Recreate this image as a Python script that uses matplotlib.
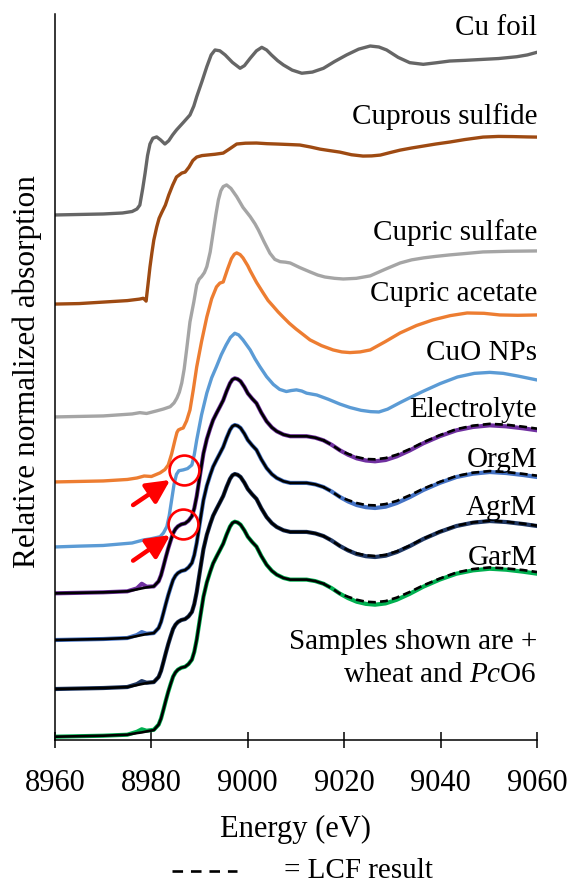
import matplotlib
matplotlib.use("Agg")
import matplotlib.pyplot as plt
from matplotlib.lines import Line2D

plt.rcParams['font.family'] = ['Liberation Serif', 'DejaVu Serif']
plt.rcParams['mathtext.fontset'] = 'custom'
plt.rcParams['mathtext.rm'] = 'Liberation Serif'
plt.rcParams['mathtext.it'] = 'Liberation Serif:italic'

# ---------------- data (normalized absorption, edge step = 1) ----------------
cu_foil_E = [8960, 8965, 8970, 8974, 8976, 8977, 8977.6, 8978.2, 8978.7, 8979.2, 8979.7, 8980.3,
             8981.1, 8981.9, 8982.8, 8983.6, 8984.4, 8985.2, 8986.6, 8988, 8988.8, 8989.4, 8990.5,
             8991.5, 8992.4, 8993.2, 8994.2, 8995.3, 8996.8, 8998.4, 8999.3, 9000.5, 9001.8,
             9002.9, 9003.9, 9004.9, 9006.2, 9007.4, 9009.2, 9011.2, 9013.4, 9015.7, 9018,
             9020.5, 9023, 9025.4, 9027.2, 9028.8, 9031.2, 9033.6, 9036.4, 9039, 9041.9, 9045,
             9048.8, 9052, 9055.8, 9058, 9060]
cu_foil_mu = [0, 0.003, 0.006, 0.012, 0.021, 0.036, 0.060, 0.160, 0.255, 0.360, 0.430, 0.465,
              0.473, 0.455, 0.430, 0.450, 0.485, 0.515, 0.560, 0.606, 0.660, 0.717, 0.810,
              0.899, 0.970, 1.000, 0.995, 0.970, 0.925, 0.889, 0.905, 0.950, 0.995,
              1.016, 1.000, 0.970, 0.935, 0.909, 0.878, 0.859, 0.866, 0.889, 0.930,
              0.970, 1.005, 1.024, 1.018, 1.000, 0.955, 0.923, 0.913, 0.922, 0.933, 0.937,
              0.943, 0.948, 0.959, 0.970, 0.986]

cu2s_E = [8960, 8965, 8970, 8975, 8977.5, 8978.3, 8978.7, 8978.9, 8979.3, 8979.7, 8980.1, 8980.5,
          8981.1, 8981.6, 8982.1, 8982.9, 8983.6, 8984.4, 8985.2, 8986.3, 8987, 8987.8, 8988.6,
          8989.4, 8990.5, 8991.5, 8993.2, 8994.9, 8996.3, 8997.7, 8999.5, 9001.8, 9004, 9006,
          9008.5, 9010.8, 9013, 9015, 9017, 9019.1, 9021.5, 9023.9, 9025.7, 9027.5, 9029.5,
          9031.6, 9034, 9036.5, 9039, 9041.9, 9045, 9048.8, 9052, 9055, 9058, 9060]
cu2s_mu = [0, 0.003, 0.012, 0.021, 0.030, 0.035, 0.025, 0.018, 0.120, 0.224, 0.310, 0.388,
           0.467, 0.520, 0.552, 0.600, 0.661, 0.720, 0.770, 0.794, 0.800, 0.830, 0.870,
           0.891, 0.900, 0.903, 0.908, 0.915, 0.942, 0.970, 0.975, 0.976, 0.972, 0.970,
           0.967, 0.964, 0.952, 0.939, 0.930, 0.921, 0.905, 0.897, 0.898, 0.903, 0.918,
           0.933, 0.946, 0.958, 0.970, 0.982, 0.997, 1.012, 1.016, 1.015, 1.013, 1.012]

cuso4_E = [8960, 8965, 8970, 8976, 8977.6, 8979, 8981, 8982.5, 8983.9, 8984.7, 8985.3, 8985.8,
           8986.3, 8986.8, 8987.3, 8988, 8988.8, 8989.4, 8989.9, 8990.4, 8991, 8991.5, 8992.2,
           8992.8, 8993.4, 8993.9, 8994.4, 8994.9, 8995.6, 8996.5, 8997.7, 8999, 9000.5,
           9001.5, 9002.2, 9003.4, 9004.6, 9005.6, 9006.7, 9007.8, 9008.8, 9010.8, 9012.9,
           9014.5, 9016, 9018, 9019.8, 9022.5, 9025.4, 9028.5, 9031.6, 9034, 9036.5, 9039,
           9041.9, 9045, 9048.8, 9054, 9060]
cuso4_mu = [0, 0.003, 0.006, 0.018, 0.026, 0.021, 0.036, 0.048, 0.062, 0.085, 0.115, 0.150,
            0.206, 0.290, 0.406, 0.576, 0.697, 0.800, 0.835, 0.850, 0.875, 0.911, 1.000,
            1.115, 1.230, 1.315, 1.370, 1.396, 1.406, 1.385, 1.335, 1.270, 1.214,
            1.170, 1.133, 1.060, 0.992, 0.955, 0.941, 0.938, 0.933, 0.905, 0.879,
            0.860, 0.848, 0.840, 0.836, 0.840, 0.855, 0.895, 0.933, 0.952, 0.964, 0.973,
            0.982, 0.990, 1.000, 1.004, 1.006]

cuac_E = [8960, 8965, 8970, 8975, 8977, 8978.5, 8980, 8981.8, 8982.8, 8983.5, 8984.2, 8984.9,
          8985.3, 8985.6, 8986.1, 8986.6, 8987.3, 8988, 8988.7, 8989.4, 8990.4, 8991.5, 8992.5,
          8993.5, 8994.2, 8994.9, 8995.8, 8996.6, 8997.2, 8997.7, 8998.4, 8999, 9000, 9000.5,
          9001.8, 9003.2, 9004.2, 9005.2, 9006.3, 9007.3, 9008.6, 9010, 9011.5, 9012.9,
          9015.3, 9017.7, 9019.5, 9021.2, 9023.3, 9025.4, 9028.5, 9031.6, 9035, 9038.4,
          9042, 9045.5, 9049, 9052.3, 9056, 9060]
cuac_mu = [0, 0.003, 0.006, 0.015, 0.024, 0.036, 0.033, 0.055, 0.075, 0.103, 0.170, 0.255,
           0.300, 0.315, 0.322, 0.327, 0.370, 0.436, 0.560, 0.697, 0.850, 1.000, 1.110,
           1.182, 1.205, 1.212, 1.290, 1.353, 1.380, 1.388, 1.378, 1.358, 1.310, 1.280,
           1.210, 1.145, 1.100, 1.067, 1.030, 1.000, 0.962, 0.927, 0.893, 0.861,
           0.826, 0.800, 0.788, 0.784, 0.788, 0.800, 0.850, 0.903, 0.948, 0.982,
           1.008, 1.024, 1.022, 1.012, 1.010, 1.012]

cuo_E = [8960, 8965, 8970, 8976, 8978.3, 8980, 8981.8, 8982.5, 8983.2, 8983.7, 8984.2, 8984.7,
         8985.2, 8985.7, 8986.6, 8987.5, 8988.4, 8988.9, 8989.4, 8990.4, 8991.5, 8992.5, 8993.5,
         8994.5, 8995.5, 8996.4, 8997.3, 8998.1, 8999, 9000.5, 9001.5, 9002.5, 9003.9, 9005.3,
         9006.6, 9008, 9009, 9010.1, 9011.2, 9012.2, 9014.3, 9016.7, 9019.1, 9021.2, 9023.5,
         9025.5, 9027.2, 9029, 9031.6, 9034, 9036.5, 9039.9, 9043.5, 9047, 9050.2, 9053,
         9056, 9060]
cuo_mu = [0, 0.005, 0.009, 0.024, 0.042, 0.050, 0.062, 0.085, 0.123, 0.190, 0.285, 0.380,
          0.440, 0.462, 0.467, 0.475, 0.497, 0.560, 0.648, 0.800, 0.933, 1.025, 1.093,
          1.165, 1.224, 1.270, 1.295, 1.285, 1.255, 1.194, 1.140, 1.093, 1.032, 0.985,
          0.955, 0.942, 0.948, 0.952, 0.945, 0.932, 0.921, 0.895, 0.866, 0.845, 0.828,
          0.820, 0.818, 0.835, 0.875, 0.910, 0.945, 0.990, 1.030, 1.052, 1.058, 1.052,
          1.036, 1.012]

sample_E = [8960, 8965, 8970, 8975, 8977, 8978, 8979, 8980.5, 8981.5, 8982,
            8982.5, 8983, 8983.5, 8984, 8984.5, 8985, 8985.5, 8986.2, 8987, 8987.7,
            8988.4, 8988.9, 8989.4, 8990.1, 8990.8, 8991.5, 8992.2, 8992.8, 8993.5, 8994.2,
            8994.9, 8995.6, 8996.3, 8996.8, 8997.3, 8997.9, 8998.5, 8999.3, 9000, 9000.9,
            9001.8, 9002.8, 9003.9, 9005, 9006, 9007.4, 9008.8, 9010.5, 9012.2, 9014,
            9015.7, 9017.4, 9019.1, 9020.8, 9022.6, 9024.5, 9026.4, 9028.6, 9030.9, 9033.6,
            9036.4, 9039.8, 9043.3, 9046.7, 9050.2, 9053.6, 9057.1, 9060]

electrolyte_mu = [0, 0.003, 0.006, 0.012, 0.030, 0.058, 0.040, 0.042, 0.073, 0.110,
                  0.164, 0.220, 0.273, 0.320, 0.364, 0.390, 0.406, 0.418, 0.424, 0.440,
                  0.467, 0.515, 0.588, 0.720, 0.848, 0.935, 1.000, 1.050, 1.091, 1.130,
                  1.170, 1.225, 1.273, 1.295, 1.303, 1.298, 1.285, 1.250, 1.212, 1.180,
                  1.152, 1.095, 1.042, 1.005, 0.982, 0.962, 0.952, 0.952, 0.952, 0.943,
                  0.927, 0.900, 0.867, 0.840, 0.818, 0.805, 0.800, 0.808, 0.830, 0.866,
                  0.909, 0.952, 0.988, 1.008, 1.018, 1.012, 1.000, 0.988]
electrolyte_lcf = [0, 0.003, 0.006, 0.012, 0.024, 0.030, 0.036, 0.042, 0.073, 0.110,
                   0.164, 0.220, 0.273, 0.320, 0.364, 0.390, 0.406, 0.418, 0.424, 0.440,
                   0.467, 0.515, 0.588, 0.720, 0.848, 0.935, 1.000, 1.050, 1.091, 1.130,
                   1.170, 1.225, 1.273, 1.295, 1.303, 1.298, 1.285, 1.250, 1.212, 1.180,
                   1.152, 1.095, 1.042, 1.005, 0.982, 0.962, 0.952, 0.952, 0.952, 0.943,
                   0.927, 0.900, 0.867, 0.845, 0.826, 0.814, 0.812, 0.820, 0.840, 0.874,
                   0.915, 0.958, 0.995, 1.016, 1.027, 1.022, 1.010, 0.998]

orgm_mu = [0, 0.003, 0.006, 0.012, 0.030, 0.048, 0.038, 0.042, 0.073, 0.110,
           0.164, 0.220, 0.273, 0.320, 0.364, 0.390, 0.406, 0.418, 0.424, 0.440,
           0.467, 0.515, 0.588, 0.720, 0.848, 0.935, 1.000, 1.050, 1.091, 1.130,
           1.170, 1.225, 1.273, 1.295, 1.303, 1.298, 1.285, 1.250, 1.212, 1.180,
           1.152, 1.095, 1.042, 1.005, 0.982, 0.962, 0.952, 0.952, 0.952, 0.943,
           0.927, 0.900, 0.867, 0.840, 0.818, 0.805, 0.800, 0.808, 0.830, 0.866,
           0.909, 0.952, 0.988, 1.008, 1.018, 1.012, 1.000, 0.988]
orgm_lcf = [0, 0.003, 0.006, 0.012, 0.024, 0.030, 0.036, 0.042, 0.073, 0.110,
            0.164, 0.220, 0.273, 0.320, 0.364, 0.390, 0.406, 0.418, 0.424, 0.440,
            0.467, 0.515, 0.588, 0.720, 0.848, 0.935, 1.000, 1.050, 1.091, 1.130,
            1.170, 1.225, 1.273, 1.295, 1.303, 1.298, 1.285, 1.250, 1.212, 1.180,
            1.152, 1.095, 1.042, 1.005, 0.982, 0.962, 0.952, 0.952, 0.952, 0.943,
            0.927, 0.900, 0.867, 0.848, 0.830, 0.818, 0.816, 0.824, 0.843, 0.877,
            0.917, 0.958, 0.994, 1.014, 1.024, 1.018, 1.007, 0.996]

agrm_mu = [0, 0.003, 0.006, 0.012, 0.030, 0.048, 0.038, 0.042, 0.073, 0.110,
           0.164, 0.220, 0.273, 0.320, 0.364, 0.390, 0.406, 0.418, 0.424, 0.440,
           0.467, 0.515, 0.588, 0.720, 0.848, 0.935, 1.000, 1.050, 1.091, 1.130,
           1.170, 1.225, 1.273, 1.295, 1.303, 1.298, 1.285, 1.250, 1.212, 1.180,
           1.152, 1.095, 1.042, 1.005, 0.982, 0.962, 0.952, 0.952, 0.952, 0.943,
           0.927, 0.900, 0.867, 0.840, 0.818, 0.805, 0.800, 0.808, 0.830, 0.866,
           0.909, 0.952, 0.988, 1.008, 1.018, 1.012, 1.000, 0.988]
agrm_lcf = [0, 0.003, 0.006, 0.012, 0.024, 0.030, 0.036, 0.042, 0.073, 0.110,
            0.164, 0.220, 0.273, 0.320, 0.364, 0.390, 0.406, 0.418, 0.424, 0.440,
            0.467, 0.515, 0.588, 0.720, 0.848, 0.935, 1.000, 1.050, 1.091, 1.130,
            1.170, 1.225, 1.273, 1.295, 1.303, 1.298, 1.285, 1.250, 1.212, 1.180,
            1.152, 1.095, 1.042, 1.005, 0.982, 0.962, 0.952, 0.952, 0.952, 0.943,
            0.927, 0.900, 0.867, 0.842, 0.822, 0.810, 0.806, 0.813, 0.834, 0.869,
            0.911, 0.954, 0.990, 1.010, 1.020, 1.014, 1.002, 0.990]

garm_mu = [0, 0.003, 0.006, 0.012, 0.030, 0.045, 0.036, 0.042, 0.073, 0.110,
           0.164, 0.220, 0.273, 0.320, 0.364, 0.390, 0.406, 0.418, 0.424, 0.440,
           0.467, 0.515, 0.588, 0.720, 0.848, 0.935, 1.000, 1.050, 1.091, 1.130,
           1.170, 1.225, 1.273, 1.295, 1.303, 1.298, 1.285, 1.250, 1.212, 1.180,
           1.152, 1.095, 1.042, 1.005, 0.982, 0.962, 0.952, 0.952, 0.952, 0.943,
           0.927, 0.900, 0.867, 0.840, 0.818, 0.805, 0.800, 0.808, 0.830, 0.866,
           0.909, 0.952, 0.988, 1.008, 1.018, 1.012, 1.000, 0.988]
garm_lcf = [0, 0.003, 0.006, 0.012, 0.022, 0.026, 0.032, 0.040, 0.073, 0.110,
            0.164, 0.220, 0.273, 0.320, 0.364, 0.390, 0.406, 0.418, 0.424, 0.440,
            0.467, 0.515, 0.588, 0.720, 0.848, 0.935, 1.000, 1.050, 1.091, 1.130,
            1.170, 1.225, 1.273, 1.295, 1.303, 1.298, 1.285, 1.250, 1.212, 1.180,
            1.152, 1.095, 1.042, 1.005, 0.982, 0.962, 0.952, 0.952, 0.952, 0.943,
            0.927, 0.900, 0.867, 0.848, 0.830, 0.818, 0.815, 0.822, 0.843, 0.877,
            0.917, 0.958, 0.995, 1.016, 1.026, 1.020, 1.010, 0.998]

reference_names = ["Cu foil", "Cuprous sulfide", "Cupric sulfate", "Cupric acetate", "CuO NPs"]
sample_names = ["Electrolyte", "OrgM", "AgrM", "GarM"]
x_ticks = [8960, 8980, 9000, 9020, 9040, 9060]

# ---------------- figure ----------------
W, H = 571, 883
fig = plt.figure(figsize=(W / 100, H / 100), dpi=100)
ax = fig.add_axes([55 / W, (H - 740) / H, (537 - 55) / W, (740 - 14) / H])

ref_data = [(cu_foil_E, cu_foil_mu), (cu2s_E, cu2s_mu), (cuso4_E, cuso4_mu),
            (cuac_E, cuac_mu), (cuo_E, cuo_mu)]
ref_colors = ['#666666', '#9E4A12', '#A5A5A5', '#ED7D31', '#5B9BD5']
ref_offsets = [3.182, 2.642, 1.958, 1.564, 1.170]
ref_label_y = [4.273, 3.733, 3.030, 2.661, 2.303]

for (E, mu), c, off, name, ly in zip(ref_data, ref_colors, ref_offsets, reference_names, ref_label_y):
    ax.plot(E, [m + off for m in mu], color=c, lw=2.4, solid_joinstyle='round',
            solid_capstyle='round', zorder=2)
    ax.text(9060, ly, name, ha='right', va='baseline', fontsize=21, zorder=5)

smp_data = [(electrolyte_mu, electrolyte_lcf), (orgm_mu, orgm_lcf),
            (agrm_mu, agrm_lcf), (garm_mu, garm_lcf)]
smp_colors = ['#7030A0', '#4472C4', '#203864', '#00B050']
smp_offsets = [0.889, 0.606, 0.309, 0.020]
smp_label_y = [1.956, 1.656, 1.364, 1.061]
split = sample_E.index(9015.7)

for (mu, lcf), c, off, name, ly in zip(smp_data, smp_colors, smp_offsets, sample_names, smp_label_y):
    ax.plot(sample_E, [m + off for m in mu], color=c, lw=3.0, solid_joinstyle='round', zorder=2)
    yl = [m + off for m in lcf]
    ax.plot(sample_E[:split + 1], yl[:split + 1], color='black', lw=1.9,
            solid_joinstyle='round', zorder=3)
    ax.plot(sample_E[split:], yl[split:], color='black', lw=1.9, dashes=(3.0, 1.6), zorder=3)
    ax.text(9060, ly, name, ha='right', va='baseline', fontsize=21, zorder=5)

ax.text(9060, 0.552, "Samples shown are +", ha='right', va='baseline', fontsize=21)
ax.text(9060, 0.352, r"wheat and $\mathit{Pc}$O6", ha='right', va='baseline', fontsize=21)

# red circles and arrows marking the pre-edge shoulder
ax.plot([8986.8, 8986.6], [1.636, 1.307], 'o', ms=21.5, mfc='none', mec='#FF0000',
        mew=1.9, zorder=6)
for (x0, y0, x1, y1) in [(8976.2, 1.424, 8983.9, 1.576), (8976.2, 1.087, 8983.9, 1.242)]:
    ax.annotate('', xy=(x1, y1), xytext=(x0, y0),
                arrowprops=dict(arrowstyle='-|>,head_length=0.7,head_width=0.35',
                                lw=3.2, color='#FF0000', mutation_scale=20,
                                shrinkA=0, shrinkB=0), zorder=6)

ax.set_xlim(8960, 9060)
ax.set_ylim(0, 4.4)
ax.set_xticks(x_ticks)
ax.set_xticklabels([str(t) for t in x_ticks])
ax.set_yticks([])
for s in ['top', 'right']:
    ax.spines[s].set_visible(False)
for s in ['left', 'bottom']:
    ax.spines[s].set_linewidth(1.1)
    ax.spines[s].set_color('black')
ax.tick_params(axis='x', direction='inout', length=12, width=1.1, labelsize=22, pad=15)

fig.text(27 / W, 1 - 372 / H, "Relative normalized absorption", rotation=90,
         ha='center', va='center', fontsize=22.5)
fig.text(296 / W, 1 - 837 / H, "Energy (eV)", ha='center', va='baseline', fontsize=22)
fig.add_artist(Line2D([172 / W, 237 / W], [1 - 871 / H] * 2, transform=fig.transFigure,
                      color='black', lw=1.9, dashes=(4.0, 3.0)))
fig.text(284 / W, 1 - 878 / H, "= LCF result", ha='left', va='baseline', fontsize=21)

fig.savefig("out.png", dpi=100)
